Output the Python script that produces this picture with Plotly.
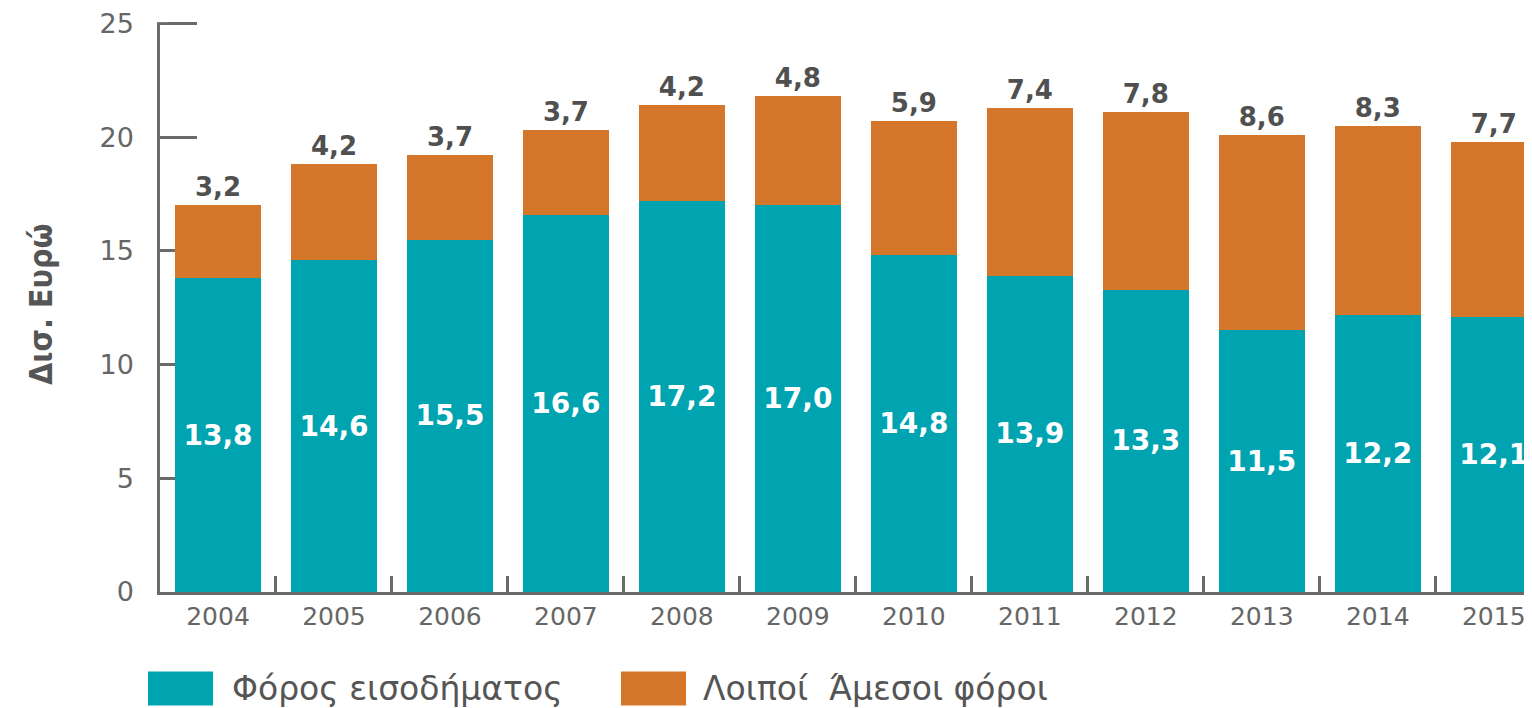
import plotly.graph_objects as go

years = ["2004", "2005", "2006", "2007", "2008", "2009", "2010", "2011", "2012", "2013", "2014", "2015"]
income_tax = [13.8, 14.6, 15.5, 16.6, 17.2, 17.0, 14.8, 13.9, 13.3, 11.5, 12.2, 12.1]
other_direct = [3.2, 4.2, 3.7, 3.7, 4.2, 4.8, 5.9, 7.4, 7.8, 8.6, 8.3, 7.7]
series_names = ["Φόρος εισοδήματος", "Λοιποί  Άμεσοι φόροι"]
y_title = "Δισ. Ευρώ"
y_ticks = [0, 5, 10, 15, 20, 25]

TEAL = "#00A3B0"
ORANGE = "#D4772A"
GRAY = "#6a6a6a"
TEXT = "#555555"
FONT = "DejaVu Sans"

# page has an 8px body margin, so the figure is sized/positioned to compensate
W, H = 1524, 700
ML, MT, MB = 152, 5, 116
Y_MAX = 25.33

fig = go.Figure()
fig.add_trace(go.Bar(
    x=years, y=income_tax, name=series_names[0], marker_color=TEAL,
    marker_line_width=0,
    texttemplate="%{y:.1f}", textposition="inside", insidetextanchor="middle",
    textfont=dict(family=FONT, size=28, color="white", weight="bold"),
    constraintext="none", showlegend=False,
))
fig.add_trace(go.Bar(
    x=years, y=other_direct, name=series_names[1], marker_color=ORANGE,
    marker_line_width=0,
    texttemplate="%{y:.1f}", textposition="outside",
    textfont=dict(family=FONT, size=26, color="#505050", weight="bold"),
    constraintext="none", cliponaxis=False, showlegend=False,
))

fig.update_layout(
    width=W, height=H,
    margin=dict(l=ML, r=0, t=MT, b=MB, pad=0),
    barmode="stack", bargap=0.259,
    separators=",.",
    plot_bgcolor="white", paper_bgcolor="white",
    font=dict(family=FONT, color=TEXT),
)
fig.update_xaxes(
    type="category", range=[-0.5, 11.33],
    showline=True, linecolor=GRAY, linewidth=2.5,
    ticks="inside", tickson="boundaries", ticklen=16, tickwidth=2.5, tickcolor=GRAY,
    tickfont=dict(family=FONT, size=25, color="#666666"),
    ticklabeloverflow="allow",
    showgrid=False, zeroline=False, layer="below traces",
)
fig.update_yaxes(
    range=[0, Y_MAX], tickvals=y_ticks,
    showline=True, linecolor=GRAY, linewidth=2.5,
    ticks="inside", ticklen=37, tickwidth=2.5, tickcolor=GRAY,
    tickfont=dict(family=FONT, size=27, color="#666666"),
    ticklabelstandoff=18, ticklabeloverflow="allow",
    showgrid=False, zeroline=False, layer="below traces",
)

# y-axis title
fig.add_annotation(
    text=y_title, xref="paper", yref="paper", x=0, y=0.5,
    xshift=-140, textangle=-90, showarrow=False,
    font=dict(family="DejaVu Sans Condensed, DejaVu Sans", size=32, color=TEXT, weight="bold"),
)

plot_h = H - MT - MB
plot_w = W - ML

# axis top: the spine ends at the top tick
fig.add_shape(type="line", xref="paper", yref="y", x0=0, x1=37 / plot_w,
              y0=y_ticks[-1], y1=y_ticks[-1], line=dict(color=GRAY, width=2.5), layer="below")
fig.add_shape(type="rect", xref="paper", yref="y", x0=-0.01, x1=0.005,
              y0=y_ticks[-1] + 0.06, y1=Y_MAX, fillcolor="white", line_width=0, layer="above")

# custom legend (large swatches); page pixel coords converted to paper coords
def px_y(py):
    return ((MT + plot_h) - (py - 8)) / plot_h
def px_x(px):
    return ((px - 8) - ML) / plot_w

legend_items = [(148, 213, 230, TEAL, series_names[0]), (621, 686, 701, ORANGE, series_names[1])]
for x0, x1, tx, col, name in legend_items:
    fig.add_shape(type="rect", xref="paper", yref="paper",
                  x0=px_x(x0), x1=px_x(x1), y0=px_y(706), y1=px_y(672),
                  fillcolor=col, line_width=0)
    fig.add_annotation(text=name, xref="paper", yref="paper",
                       x=px_x(tx), y=px_y(689), xanchor="left", yanchor="middle",
                       showarrow=False,
                       font=dict(family=FONT, size=33, color=TEXT))

fig.write_html("out.html")
